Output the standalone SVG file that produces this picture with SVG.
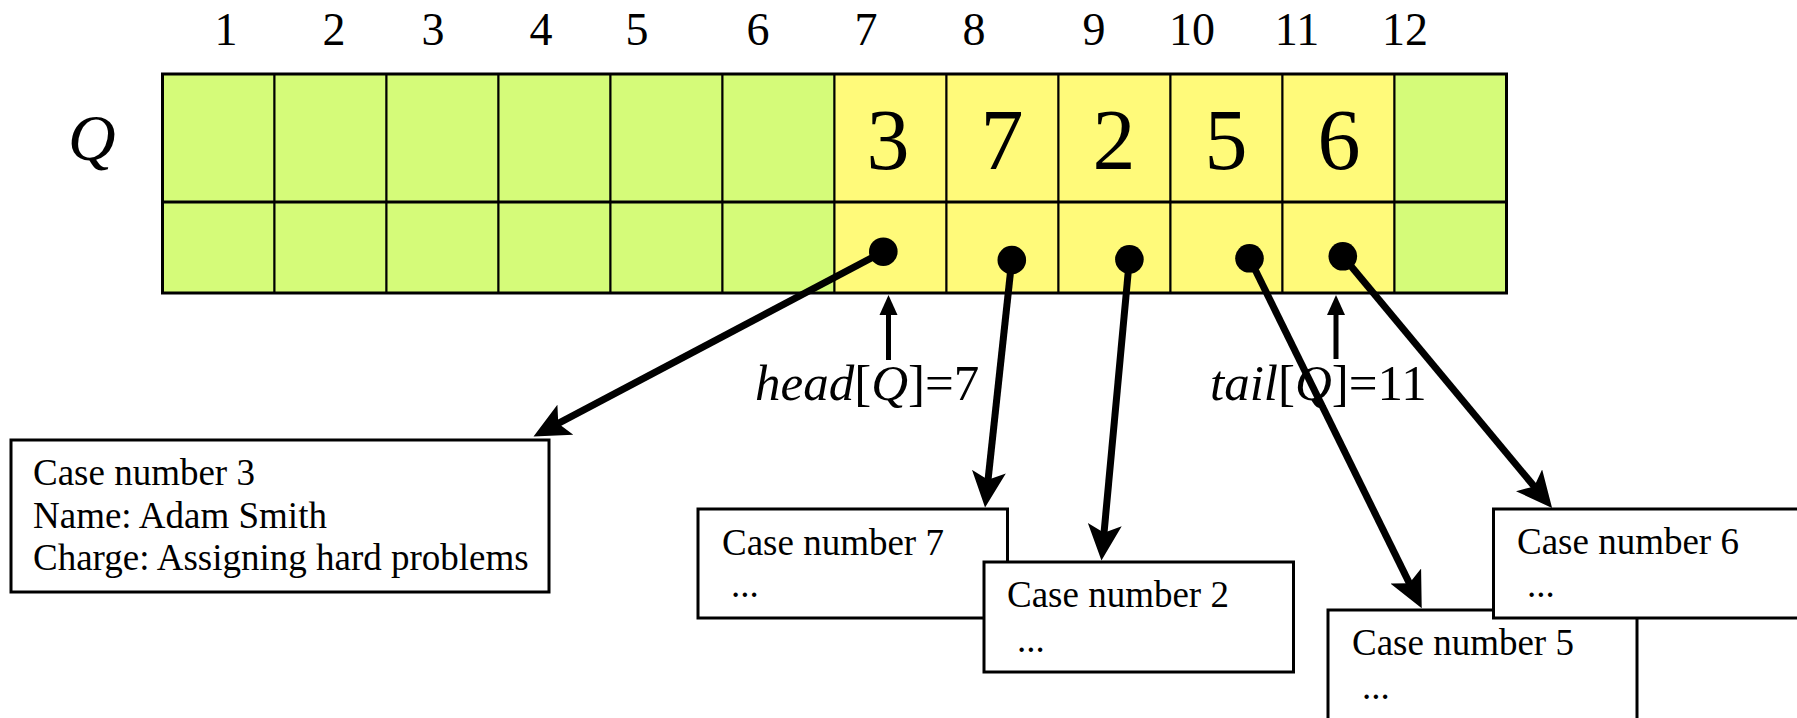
<svg xmlns="http://www.w3.org/2000/svg" width="1797" height="718" viewBox="0 0 1797 718">
<defs>
<style>
.g{fill:#d5fb79;stroke:#000;stroke-width:2}
.y{fill:#fffa7a;stroke:#000;stroke-width:2}
.t{font-family:"Liberation Serif","Times New Roman",serif;fill:#000}
.idx{font-size:46px;text-anchor:middle}
.val{font-size:86px;text-anchor:middle}
.box{fill:#fff;stroke:#000;stroke-width:3}
.bt{font-size:37px}
.lbl{font-size:51px}
.it{font-style:italic}
.con{stroke:#000;stroke-width:7;fill:none;marker-end:url(#ah)}
.ptr{stroke:#000;stroke-width:5;fill:none}
</style>
<marker id="ah" viewBox="0 0 36 34" refX="16" refY="17" markerWidth="36" markerHeight="34" markerUnits="userSpaceOnUse" orient="auto">
<path d="M0,0 L36,17 L0,34 L8,17 z" fill="#000"/>
</marker>
</defs>
<rect width="1797" height="718" fill="#fff"/>

<g id="indices" class="t idx">
<text x="226" y="45">1</text>
<text x="334" y="45">2</text>
<text x="433" y="45">3</text>
<text x="541" y="45">4</text>
<text x="637" y="45">5</text>
<text x="758" y="45">6</text>
<text x="866" y="45">7</text>
<text x="974" y="45">8</text>
<text x="1094" y="45">9</text>
<text x="1192" y="45">10</text>
<text x="1297" y="45">11</text>
<text x="1405" y="45">12</text>
</g>

<g id="queue-label"><text class="t it" x="68" y="160" font-size="66">Q</text></g>

<g id="queue">
<rect class="g" x="162.5" y="74" width="112" height="128"/>
<rect class="g" x="274.5" y="74" width="112" height="128"/>
<rect class="g" x="386.5" y="74" width="112" height="128"/>
<rect class="g" x="498.5" y="74" width="112" height="128"/>
<rect class="g" x="610.5" y="74" width="112" height="128"/>
<rect class="g" x="722.5" y="74" width="112" height="128"/>
<rect class="y" x="834.5" y="74" width="112" height="128"/>
<rect class="y" x="946.5" y="74" width="112" height="128"/>
<rect class="y" x="1058.5" y="74" width="112" height="128"/>
<rect class="y" x="1170.5" y="74" width="112" height="128"/>
<rect class="y" x="1282.5" y="74" width="112" height="128"/>
<rect class="g" x="1394.5" y="74" width="112" height="128"/>
<rect class="g" x="162.5" y="202" width="112" height="91"/>
<rect class="g" x="274.5" y="202" width="112" height="91"/>
<rect class="g" x="386.5" y="202" width="112" height="91"/>
<rect class="g" x="498.5" y="202" width="112" height="91"/>
<rect class="g" x="610.5" y="202" width="112" height="91"/>
<rect class="g" x="722.5" y="202" width="112" height="91"/>
<rect class="y" x="834.5" y="202" width="112" height="91"/>
<rect class="y" x="946.5" y="202" width="112" height="91"/>
<rect class="y" x="1058.5" y="202" width="112" height="91"/>
<rect class="y" x="1170.5" y="202" width="112" height="91"/>
<rect class="y" x="1282.5" y="202" width="112" height="91"/>
<rect class="g" x="1394.5" y="202" width="112" height="91"/>
<rect x="162.5" y="74" width="1344" height="219" fill="none" stroke="#000" stroke-width="3"/>
<line x1="162.5" y1="202" x2="1506.5" y2="202" stroke="#000" stroke-width="3"/>
<g class="t val">
<text x="888" y="169">3</text>
<text x="1002" y="169">7</text>
<text x="1114" y="169">2</text>
<text x="1226" y="169">5</text>
<text x="1339" y="169">6</text>
</g>
<circle cx="883.3" cy="251.7" r="14.3"/>
<circle cx="1011.8" cy="260" r="14.3"/>
<circle cx="1129.4" cy="259.3" r="14.3"/>
<circle cx="1249.5" cy="258.3" r="14.3"/>
<circle cx="1342.8" cy="256.3" r="14.3"/>
</g>

<g id="head">
<line class="ptr" x1="888.5" y1="360" x2="888.5" y2="312"/>
<polygon points="888.5,295 879.5,315 897.5,315"/>
<text class="t lbl" x="755" y="400"><tspan class="it">head</tspan>[<tspan class="it">Q</tspan>]=7</text>
</g>

<g id="tail">
<line class="ptr" x1="1336" y1="359" x2="1336" y2="312"/>
<polygon points="1336,295 1327,315 1345,315"/>
<text class="t lbl" x="1210" y="400"><tspan class="it">tail</tspan>[<tspan class="it">Q</tspan>]=11</text>
</g>

<g id="case3">
<rect class="box" x="11" y="440" width="538" height="152"/>
<text class="t bt" x="33" y="485">Case number 3</text>
<text class="t bt" x="33" y="528">Name: Adam Smith</text>
<text class="t bt" x="33" y="570">Charge: Assigning hard problems</text>
</g>

<g id="case7">
<rect class="box" x="698" y="509" width="309.5" height="109"/>
<text class="t bt" x="722" y="555">Case number 7</text>
<text class="t bt" x="731" y="597">...</text>
</g>

<g id="case2">
<rect class="box" x="984" y="562" width="309.5" height="110"/>
<text class="t bt" x="1007" y="607">Case number 2</text>
<text class="t bt" x="1017" y="652">...</text>
</g>

<g id="case5">
<rect class="box" x="1328" y="610" width="309" height="130"/>
<text class="t bt" x="1352" y="655">Case number 5</text>
<text class="t bt" x="1362" y="699">...</text>
</g>

<g id="case6">
<rect class="box" x="1493.5" y="509" width="330" height="109"/>
<text class="t bt" x="1517" y="554">Case number 6</text>
<text class="t bt" x="1527" y="597">...</text>
</g>

<g id="connectors">
<line class="con" x1="883.3" y1="251.7" x2="551.2" y2="427.2"/>
<line class="con" x1="1011.8" y1="260" x2="987.2" y2="487.6"/>
<line class="con" x1="1129.4" y1="259.3" x2="1103.3" y2="540.6"/>
<line class="con" x1="1249.5" y1="258.3" x2="1412.9" y2="590.4"/>
<line class="con" x1="1342.8" y1="256.3" x2="1539.3" y2="492.6"/>
</g>
</svg>
